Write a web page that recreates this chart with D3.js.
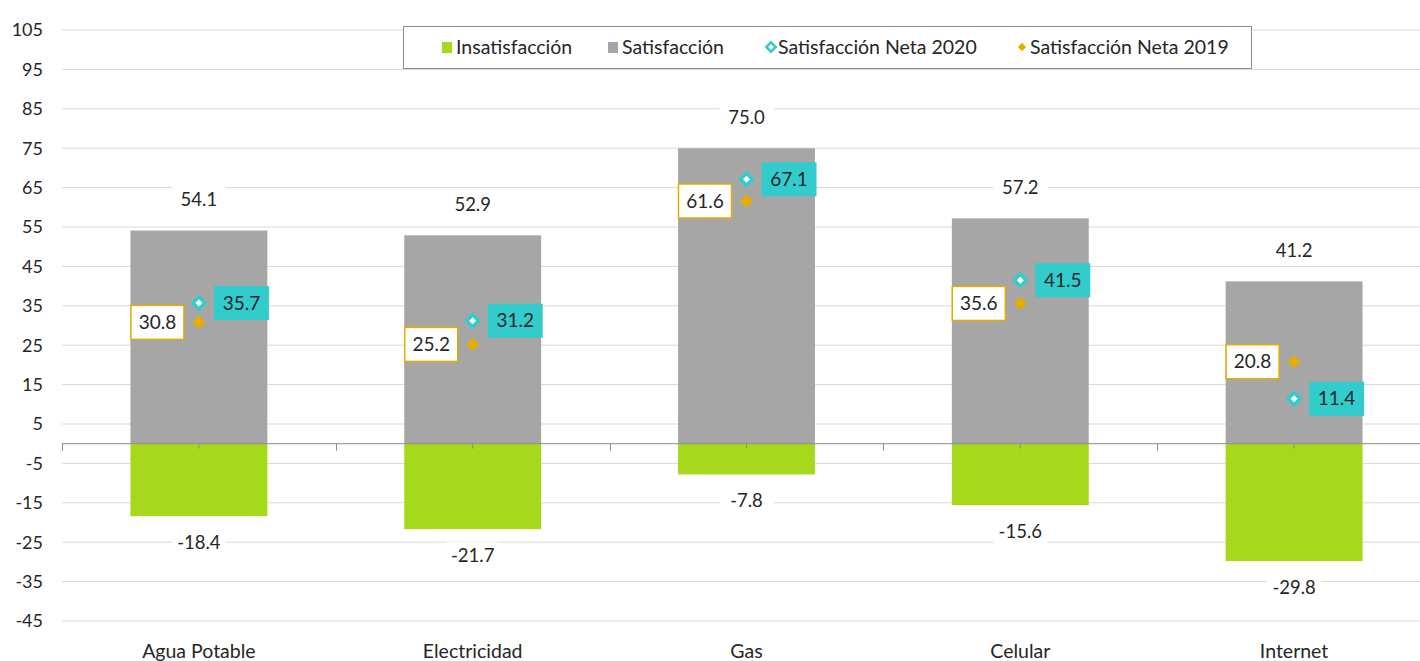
<!DOCTYPE html>
<html>
<head>
<meta charset="utf-8">
<script src="https://cdn.jsdelivr.net/npm/d3@7"></script>
<style>
  body { margin: 0; background: #fff; overflow: hidden; }
  svg text { font-family: Lato, "Open Sans", sans-serif; fill: #262626; }
</style>
</head>
<body>
<div id="chart"></div>
<script>
// values
var categories = ['Agua Potable', 'Electricidad', 'Gas', 'Celular', 'Internet'];
var satisfaccion = [54.1, 52.9, 75.0, 57.2, 41.2];
var insatisfaccion = [-18.4, -21.7, -7.8, -15.6, -29.8];
var neta2020 = [35.7, 31.2, 67.1, 41.5, 11.4];
var neta2019 = [30.8, 25.2, 61.6, 35.6, 20.8];
var yTicks = [-45, -35, -25, -15, -5, 5, 15, 25, 35, 45, 55, 65, 75, 85, 95, 105];
var legendItems = ['Insatisfacción', 'Satisfacción', 'Satisfacción Neta 2020', 'Satisfacción Neta 2019'];

drawChart();

function drawChart() {
	var width = 1420, height = 661;
	// the plot area runs a little past the right edge of the picture
	var mLeft = 62, mRight = 1431, mTop = 30, mBottom = 621;

	var green = '#a6d91b', grey = '#a6a6a6', teal = '#33cccc', gold = '#e6ac00';

	var svg = d3.select('#chart').append('svg')
		.attr('width', width)
		.attr('height', height);

	var x = d3.scaleBand()
		.domain(categories)
		.range([mLeft, mRight])
		.paddingInner(0).paddingOuter(0);

	var y = d3.scaleLinear()
		.domain([-45, 105])
		.range([mBottom, mTop]);

	var barW = x.bandwidth() * 0.5;

	// gridlines
	svg.append('g')
		.selectAll('line')
		.data(yTicks)
		.enter()
		.append('line')
		.attr('x1', mLeft).attr('x2', width)
		.attr('y1', function(d) { return y(d); })
		.attr('y2', function(d) { return y(d); })
		.attr('stroke', '#d9d9d9')
		.attr('stroke-width', 1);

	// y tick labels
	svg.append('g')
		.selectAll('text')
		.data(yTicks)
		.enter()
		.append('text')
		.attr('x', 43)
		.attr('y', function(d) { return y(d); })
		.attr('dy', '0.35em')
		.attr('text-anchor', 'end')
		.style('font-size', '18px')
		.text(function(d) { return d; });

	// bars
	svg.append('g')
		.selectAll('rect')
		.data(categories)
		.enter()
		.append('rect')
		.attr('x', function(d) { return x(d) + x.bandwidth() / 2 - barW / 2; })
		.attr('y', function(d, i) { return y(satisfaccion[i]); })
		.attr('width', barW)
		.attr('height', function(d, i) { return y(0) - y(satisfaccion[i]); })
		.attr('fill', grey);

	svg.append('g')
		.selectAll('rect')
		.data(categories)
		.enter()
		.append('rect')
		.attr('x', function(d) { return x(d) + x.bandwidth() / 2 - barW / 2; })
		.attr('y', y(0))
		.attr('width', barW)
		.attr('height', function(d, i) { return y(insatisfaccion[i]) - y(0); })
		.attr('fill', green);

	// x axis line and ticks
	var xAxis = svg.append('g').attr('stroke', '#8c8c8c');
	xAxis.append('line')
		.attr('x1', mLeft).attr('x2', width)
		.attr('y1', y(0)).attr('y2', y(0));
	var bounds = categories.map(function(d) { return x(d); });
	xAxis.selectAll('line.tk')
		.data(bounds)
		.enter()
		.append('line')
		.attr('class', 'tk')
		.attr('x1', function(d) { return Math.round(d) + 0.5; })
		.attr('x2', function(d) { return Math.round(d) + 0.5; })
		.attr('y1', y(0)).attr('y2', y(0) + 7);
	xAxis.selectAll('line.ct')
		.data(categories)
		.enter()
		.append('line')
		.attr('class', 'ct')
		.attr('x1', function(d) { return x(d) + x.bandwidth() / 2; })
		.attr('x2', function(d) { return x(d) + x.bandwidth() / 2; })
		.attr('y1', y(0)).attr('y2', y(0) + 5);

	// category labels
	svg.append('g')
		.selectAll('text')
		.data(categories)
		.enter()
		.append('text')
		.attr('x', function(d) { return x(d) + x.bandwidth() / 2; })
		.attr('y', 651)
		.attr('dy', '0.35em')
		.attr('text-anchor', 'middle')
		.style('font-size', '19.5px')
		.text(function(d) { return d; });

	// value labels above / below bars, with white background
	function boxedLabel(g, cx, cy, txt, w) {
		g.append('rect')
			.attr('x', cx - w / 2).attr('y', cy - 13)
			.attr('width', w).attr('height', 26)
			.attr('fill', '#fff');
		g.append('text')
			.attr('x', cx).attr('y', cy)
			.attr('dy', '0.35em')
			.attr('text-anchor', 'middle')
			.style('font-size', '18.5px')
			.text(txt);
	}

	var labels = svg.append('g');
	categories.forEach(function(d, i) {
		var cx = x(d) + x.bandwidth() / 2;
		boxedLabel(labels, cx, y(satisfaccion[i]) - 31, satisfaccion[i].toFixed(1), 54);
		boxedLabel(labels, cx, y(insatisfaccion[i]) + 26, insatisfaccion[i].toFixed(1), 54);
	});

	// net satisfaction markers and labels
	var diamond = d3.symbol().type(d3.symbolDiamond2);
	var marks = svg.append('g');
	categories.forEach(function(d, i) {
		var cx = x(d) + x.bandwidth() / 2;
		var y19 = y(neta2019[i]), y20 = y(neta2020[i]);

		marks.append('path')
			.attr('d', diamond.size(110)())
			.attr('transform', 'translate(' + cx + ',' + y19 + ')')
			.attr('fill', gold);

		marks.append('path')
			.attr('d', diamond.size(90)())
			.attr('transform', 'translate(' + cx + ',' + y20 + ')')
			.attr('fill', '#fff')
			.attr('stroke', teal)
			.attr('stroke-width', 3.5);

		// 2019 label box on the left
		marks.append('rect')
			.attr('x', cx - 68).attr('y', y19 - 17)
			.attr('width', 53).attr('height', 34)
			.attr('fill', '#fff')
			.attr('stroke', gold)
			.attr('stroke-width', 1.5);
		marks.append('text')
			.attr('x', cx - 41.5).attr('y', y19)
			.attr('dy', '0.35em')
			.attr('text-anchor', 'middle')
			.style('font-size', '19px')
			.text(neta2019[i].toFixed(1));

		// 2020 label box on the right
		marks.append('rect')
			.attr('x', cx + 15).attr('y', y20 - 17)
			.attr('width', 55).attr('height', 34)
			.attr('fill', teal);
		marks.append('text')
			.attr('x', cx + 42.5).attr('y', y20)
			.attr('dy', '0.35em')
			.attr('text-anchor', 'middle')
			.style('font-size', '19px')
			.text(neta2020[i].toFixed(1));
	});

	// legend
	var legend = svg.append('g');
	legend.append('rect')
		.attr('x', 403.5).attr('y', 26.5)
		.attr('width', 848).attr('height', 42)
		.attr('fill', '#fff')
		.attr('stroke', '#8c8c8c');

	var legendX = [442, 608, 766, 1018];
	legendItems.forEach(function(name, i) {
		var lx = legendX[i], ly = 47;
		if (i < 2) {
			legend.append('rect')
				.attr('x', lx).attr('y', ly - 5)
				.attr('width', 10).attr('height', 11)
				.attr('fill', i == 0 ? green : grey);
		} else if (i == 2) {
			legend.append('path')
				.attr('d', diamond.size(55)())
				.attr('transform', 'translate(' + (lx + 5) + ',' + ly + ')')
				.attr('fill', '#fff')
				.attr('stroke', teal)
				.attr('stroke-width', 2.5);
		} else {
			legend.append('path')
				.attr('d', diamond.size(45)())
				.attr('transform', 'translate(' + (lx + 4) + ',' + ly + ')')
				.attr('fill', gold);
		}
		legend.append('text')
			.attr('x', lx + (i < 2 ? 14 : 12))
			.attr('y', ly)
			.attr('dy', '0.35em')
			.style('font-size', '19.5px')
			.text(name);
	});
}
</script>
</body>
</html>
